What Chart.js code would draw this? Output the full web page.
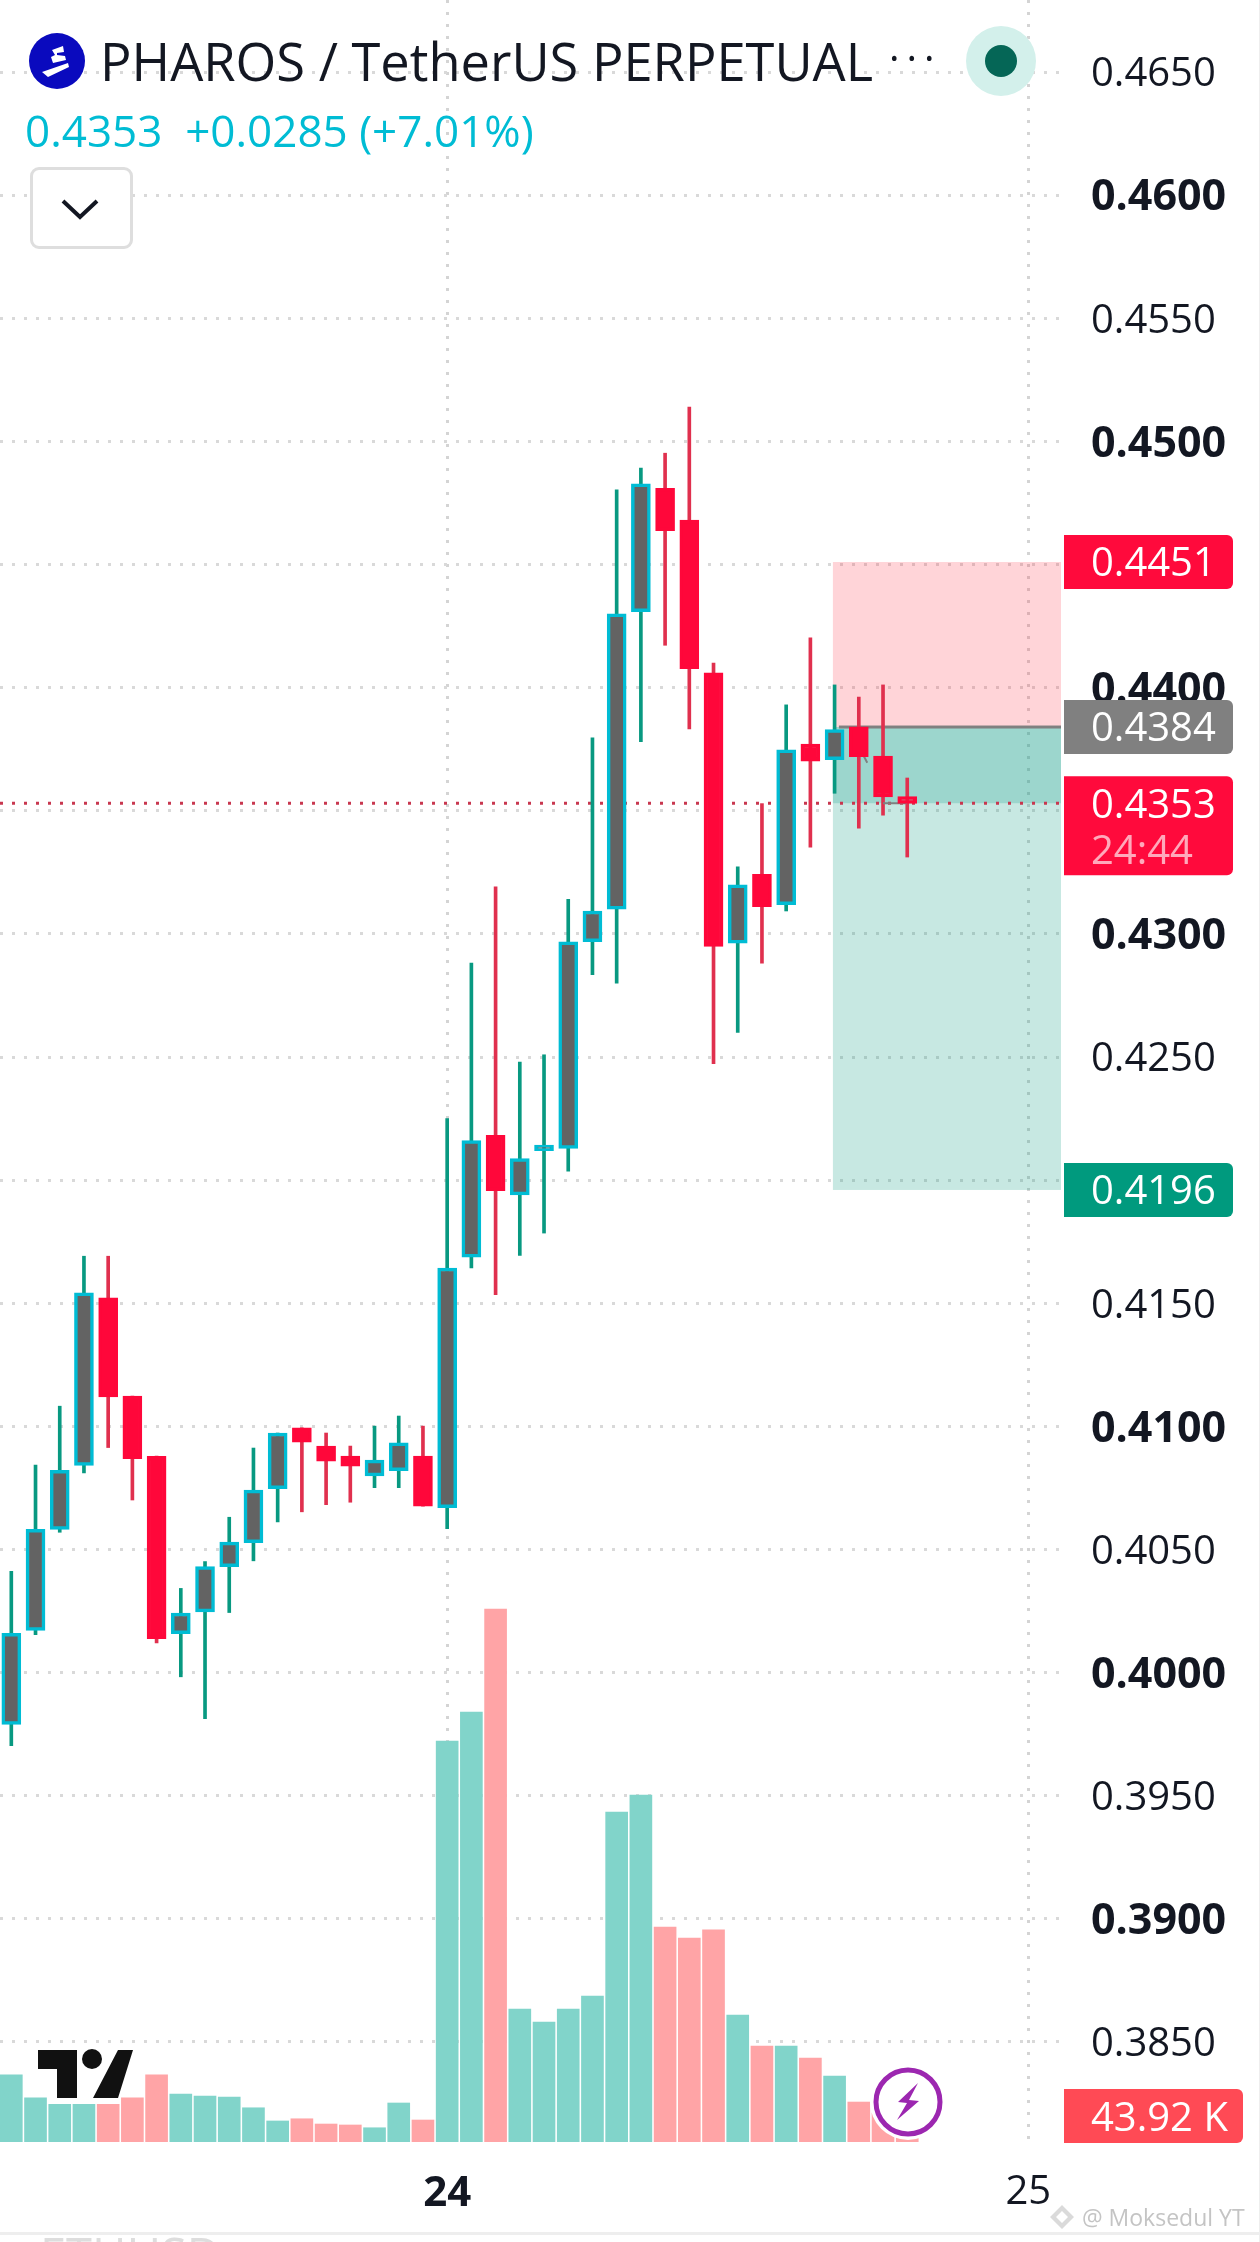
<!DOCTYPE html>
<html>
<head>
  <title>PHAROS / TetherUS PERPETUAL</title>
  <script src="https://cdn.jsdelivr.net/npm/chart.js"></script>
  <style>
    html, body { margin: 0; padding: 0; background: #fff; }
    body { position: relative; width: 1260px; height: 2242px; overflow: hidden; font-family: "Open Sans", sans-serif; }
    canvas { position: absolute; left: 0; top: 0; }
    .title { position: absolute; left: 100px; top: 26px; font-size: 52.4px; line-height: 70px; color: #131722; white-space: nowrap; }
    .dots { position: absolute; left: 889px; top: 22px; font-size: 40px; line-height: 70px; letter-spacing: 7px; color: #131722; }
    .quote { position: absolute; left: 25px; top: 100px; font-size: 44px; line-height: 60px; color: #00BCD4; white-space: pre; }
    .btn { position: absolute; left: 30px; top: 167px; width: 97px; height: 76px; border: 3px solid #DEDEDE; border-radius: 9px; background: #fff; }
    svg { position: absolute; }
    .mark { position: absolute; left: 1082px; top: 2199px; font-size: 23px; line-height: 36px; color: #C4C4C4; white-space: nowrap; }
    .strip { position: absolute; left: 0; top: 2232px; width: 1260px; height: 3px; background: #EEEEEE; }
    .crop { position: absolute; left: 40px; top: 2224px; font-size: 47px; line-height: 60px; color: #DDDDDD; }
    .edge { position: absolute; left: 1259px; top: 0; width: 1px; height: 2242px; background: #EEEEEE; }
  </style>
</head>
<body>
  <canvas id="chart" width="1260" height="2242"></canvas>

  <div class="crop">ETHUSD</div>
  <div class="strip"></div>
  <div class="edge"></div>

  <svg style="left:29px;top:33px" width="56" height="56" viewBox="0 0 56 56">
    <circle cx="28" cy="28" r="28" fill="#0A0ABE"/>
    <path d="M13 39 L39 30 L40 34 L19 44 Z M23 17 L34 13 L35 19 L28 20 L28 22 L36 23 L37 27 L24 30 L22 24 L26 22 Z" fill="#fff"/>
  </svg>
  <div class="title">PHAROS / TetherUS PERPETUAL</div>
  <div class="dots">···</div>
  <svg style="left:966px;top:26px" width="70" height="70" viewBox="0 0 70 70">
    <circle cx="35" cy="35" r="35" fill="#D3F0EB"/>
    <circle cx="35" cy="35" r="16" fill="#056656"/>
  </svg>
  <div class="quote">0.4353  +0.0285 (+7.01%)</div>
  <div class="btn"></div>
  <svg style="left:60px;top:197px" width="40" height="24" viewBox="0 0 40 24">
    <path d="M3 4 L20 20 L37 4" fill="none" stroke="#131722" stroke-width="4"/>
  </svg>

  <svg style="left:30px;top:2042px" width="112" height="64" viewBox="30 2042 112 64">
    <path d="M38 2050 H77 V2098 H57 V2069 H38 Z M118 2050 H133 L118 2098 H93 Z" fill="#111" stroke="#fff" stroke-width="3" paint-order="stroke"/>
    <circle cx="92" cy="2059" r="10" fill="#111"/>
  </svg>
  <svg style="left:868px;top:2062px" width="80" height="80" viewBox="0 0 80 80">
    <circle cx="40" cy="40" r="38" fill="#fff"/>
    <circle cx="40" cy="40" r="32" fill="#fff" stroke="#9C27B0" stroke-width="5"/>
    <path d="M50 21 L30 40 L39 41 L29 58 L51 39 L41 38 Z" fill="#9C27B0"/>
  </svg>
  <svg style="left:1048px;top:2203px" width="28" height="28" viewBox="0 0 28 28">
    <path d="M14 2 L26 14 L14 26 L2 14 Z M14 8 L8 14 L14 20 L20 14 Z" fill="#DADADA" fill-rule="evenodd"/>
  </svg>
  <div class="mark">@ Moksedul YT</div>

  <script>
    // OHLC, one entry per candle
    const indexes = [0,1,2,3,4,5,6,7,8,9,10,11,12,13,14,15,16,17,18,19,20,21,22,23,24,25,26,27,28,29,30,31,32,33,34,35,36,37];
    const opens = [0.3979,0.40171,0.40582,0.40841,0.41522,0.41123,0.40878,0.40158,0.40247,0.4043,0.40528,0.40747,0.40994,0.4092,0.40879,0.40799,0.4082,0.40879,0.4067,0.41687,0.42182,0.4194,0.4212,0.42129,0.42968,0.431,0.44308,0.44809,0.4468,0.4406,0.42962,0.43242,0.43119,0.43771,0.43707,0.43841,0.43722,0.43558];
    const highs = [0.40411,0.40843,0.41082,0.41691,0.41691,0.41123,0.40879,0.40342,0.40451,0.40631,0.40912,0.40973,0.40994,0.40973,0.4092,0.41001,0.41042,0.41001,0.4225,0.42881,0.43191,0.42479,0.42509,0.4314,0.43796,0.44803,0.44892,0.44952,0.45139,0.441,0.43272,0.43529,0.4393,0.44202,0.44011,0.43962,0.44011,0.43633];
    const lows = [0.39703,0.40154,0.4057,0.40811,0.40914,0.40701,0.40121,0.39983,0.39813,0.40244,0.40454,0.40612,0.40653,0.40682,0.40692,0.40751,0.40751,0.40676,0.40585,0.41643,0.41535,0.41694,0.41785,0.42036,0.42834,0.428,0.43781,0.44172,0.43832,0.42473,0.426,0.42881,0.43093,0.43352,0.43571,0.43429,0.43482,0.43312];
    const closes = [0.4016,0.40582,0.40821,0.41542,0.4112,0.40869,0.40138,0.40242,0.40431,0.4053,0.40741,0.40973,0.40936,0.40859,0.40838,0.40863,0.40933,0.40676,0.41643,0.42161,0.41957,0.42087,0.42142,0.42968,0.43093,0.443,0.44828,0.44637,0.44077,0.42949,0.43199,0.4311,0.43747,0.43701,0.4383,0.4372,0.43556,0.4353];
    const volumes = [702,462,394,394,394,462,702,502,481,471,358,220,243,188,178,149,408,230,4194,4498,5575,1391,1255,1391,1527,3452,3630,2249,2134,2218,1328,1004,1004,879,690,418,303,43.92];

    const priceTicks = [0.465,0.46,0.455,0.45,0.445,0.44,0.435,0.43,0.425,0.42,0.415,0.41,0.405,0.4,0.395,0.39,0.385];
    const priceLabels = ['0.4650','0.4600','0.4550','0.4500','','0.4400','','0.4300','0.4250','','0.4150','0.4100','0.4050','0.4000','0.3950','0.3900','0.3850'];
    const boldLabels = ['0.4600','0.4500','0.4400','0.4300','0.4100','0.4000','0.3900'];
    const timeTicks = [18, 42];
    const timeLabels = ['24', '25'];

    const stopPrice = 0.4451;
    const entryPrice = 0.4384;
    const lastPrice = 0.4353;
    const targetPrice = 0.4196;
    const positionStart = 33.93;
    // the connector of the position tool, mostly hidden behind the candles
    const tradeLineX = [35, 35.35, 35.7, 36, 37];
    const tradeLineY = [0.4376, 0.43695, null, 0.4353, 0.4353];

    const FONT = '"Open Sans", sans-serif';
    const isUp = closes.map((c, i) => c >= opens[i]);

    // position tool zones + dotted last price line, under the candles
    const zonesPlugin = {
      id: 'zones',
      beforeDraw(chart) {
        // Open Sans sits a bit high, nudge the price labels onto their grid lines
        chart.scales.y.getLabelItems().forEach(item => { item.textOffset = 3; });
      },
      beforeDatasetsDraw(chart) {
        const { ctx, chartArea, scales } = chart;
        const left = scales.x.getPixelForValue(positionStart);
        const right = chartArea.right;
        const y = v => scales.y.getPixelForValue(v);
        ctx.save();
        ctx.fillStyle = 'rgba(255, 25, 50, 0.19)';
        ctx.fillRect(left, y(stopPrice), right - left, y(entryPrice) - y(stopPrice));
        ctx.fillStyle = 'rgba(0, 150, 125, 0.39)';
        ctx.fillRect(left, y(entryPrice), right - left, y(lastPrice) - y(entryPrice));
        ctx.fillStyle = 'rgba(0, 150, 125, 0.22)';
        ctx.fillRect(left, y(lastPrice), right - left, y(targetPrice) - y(lastPrice));
        ctx.fillStyle = '#808080';
        ctx.fillRect(left + 6, y(entryPrice) - 1.5, right - left - 6, 3);
        ctx.strokeStyle = '#C8374F';
        ctx.lineWidth = 3;
        ctx.setLineDash([3, 9]);
        ctx.beginPath();
        ctx.moveTo(0, y(lastPrice));
        ctx.lineTo(right, y(lastPrice));
        ctx.stroke();
        ctx.restore();
      }
    };

    function badge(ctx, y0, y1, right, color) {
      ctx.fillStyle = color;
      ctx.beginPath();
      ctx.roundRect(1064, y0, right - 1064, y1 - y0, [0, 6, 6, 0]);
      ctx.fill();
    }

    // price labels on the right axis, drawn last so they cover the ticks
    const badgesPlugin = {
      id: 'badges',
      afterDraw(chart) {
        const { ctx, scales } = chart;
        const y = v => scales.y.getPixelForValue(v);
        ctx.save();
        ctx.font = '40px ' + FONT;
        ctx.textBaseline = 'middle';
        ctx.textAlign = 'left';
        badge(ctx, y(stopPrice) - 27, y(stopPrice) + 27, 1233, '#FF0A3C');
        badge(ctx, y(entryPrice) - 27, y(entryPrice) + 27, 1233, '#808080');
        badge(ctx, y(lastPrice) - 27, y(lastPrice) + 72, 1233, '#FF0A3C');
        badge(ctx, y(targetPrice) - 27, y(targetPrice) + 27, 1233, '#009A7E');
        badge(ctx, 2089, 2143, 1243, '#FF4A55');
        ctx.fillStyle = '#fff';
        ctx.fillText(stopPrice.toFixed(4), 1091, y(stopPrice) + 3);
        ctx.fillText(entryPrice.toFixed(4), 1091, y(entryPrice) + 3);
        ctx.fillText(lastPrice.toFixed(4), 1091, y(lastPrice) + 3);
        ctx.fillText(targetPrice.toFixed(4), 1091, y(targetPrice) + 3);
        ctx.fillText('43.92 K', 1091, 2120);
        ctx.fillStyle = 'rgba(255,255,255,0.65)';
        ctx.fillText('24:44', 1091, y(lastPrice) + 49);
        ctx.restore();
      }
    };

    new Chart(document.getElementById('chart').getContext('2d'), {
      data: {
        datasets: [
          {
            type: 'bar',
            label: 'body',
            data: indexes.map(i => ({ x: i, y: [opens[i], closes[i]] })),
            backgroundColor: isUp.map(u => (u ? '#636363' : '#FF073A')),
            borderColor: isUp.map(u => (u ? '#00BCD4' : '#FF073A')),
            borderWidth: 3.5,
            borderSkipped: false,
            grouped: false,
            barPercentage: 1,
            categoryPercentage: 1,
            maxBarThickness: 19,
            yAxisID: 'y'
          },
          {
            type: 'line',
            label: 'trade',
            data: tradeLineX.map((x, i) => ({ x: x, y: tradeLineY[i] })),
            borderColor: '#808080',
            borderWidth: 2,
            pointRadius: 0,
            tension: 0,
            yAxisID: 'y'
          },
          {
            type: 'bar',
            label: 'wick',
            data: indexes.map(i => ({ x: i, y: [lows[i], highs[i]] })),
            backgroundColor: isUp.map(u => (u ? '#089981' : '#E0304E')),
            grouped: false,
            barPercentage: 1,
            categoryPercentage: 1,
            maxBarThickness: 3,
            yAxisID: 'y'
          },
          {
            type: 'bar',
            label: 'volume',
            data: indexes.map(i => ({ x: i, y: volumes[i] })),
            backgroundColor: isUp.map(u => (u ? '#81D4CA' : '#FFA4A6')),
            grouped: false,
            barPercentage: 1,
            categoryPercentage: 1,
            maxBarThickness: 22,
            yAxisID: 'vol'
          }
        ]
      },
      options: {
        responsive: false,
        animation: false,
        events: [],
        layout: { padding: 0 },
        plugins: { legend: { display: false }, tooltip: { enabled: false } },
        scales: {
          x: {
            type: 'linear',
            offset: false,
            min: -0.467,
            max: 43.35,
            afterFit(scale) {
              scale.height = 100;
              scale.paddingLeft = 0;
              scale.paddingRight = 0;
            },
            afterBuildTicks(scale) { scale.ticks = timeTicks.map(v => ({ value: v })); },
            grid: { offset: false, color: '#D4D4D4', lineWidth: 3, drawTicks: false },
            border: { display: false, dash: [3, 9] },
            ticks: {
              autoSkip: false,
              maxRotation: 0,
              padding: 27,
              color: '#131722',
              font: ctx => ({ family: FONT, size: ctx.index === 0 ? 42 : 40, weight: ctx.index === 0 ? '700' : '400' }),
              callback: (v, i) => timeLabels[i]
            }
          },
          y: {
            type: 'linear',
            position: 'right',
            min: 0.380939,
            max: 0.467924,
            afterFit(scale) {
              scale.width = 199;
              scale.paddingTop = 0;
              scale.paddingBottom = 0;
            },
            afterBuildTicks(scale) { scale.ticks = priceTicks.map(v => ({ value: v })); },
            grid: { color: '#D9D9D9', lineWidth: 3, drawTicks: false },
            border: { display: false, dash: [3, 9] },
            ticks: {
              autoSkip: false,
              padding: 30,
              color: '#131722',
              font: ctx => {
                const bold = boldLabels.includes(priceLabels[ctx.index]);
                return { family: FONT, size: bold ? 43 : 40, weight: bold ? '700' : '400' };
              },
              callback: (v, i) => priceLabels[i]
            }
          },
          vol: {
            type: 'linear',
            display: false,
            min: 0,
            max: 22405
          }
        }
      },
      plugins: [zonesPlugin, badgesPlugin]
    });
  </script>
</body>
</html>
